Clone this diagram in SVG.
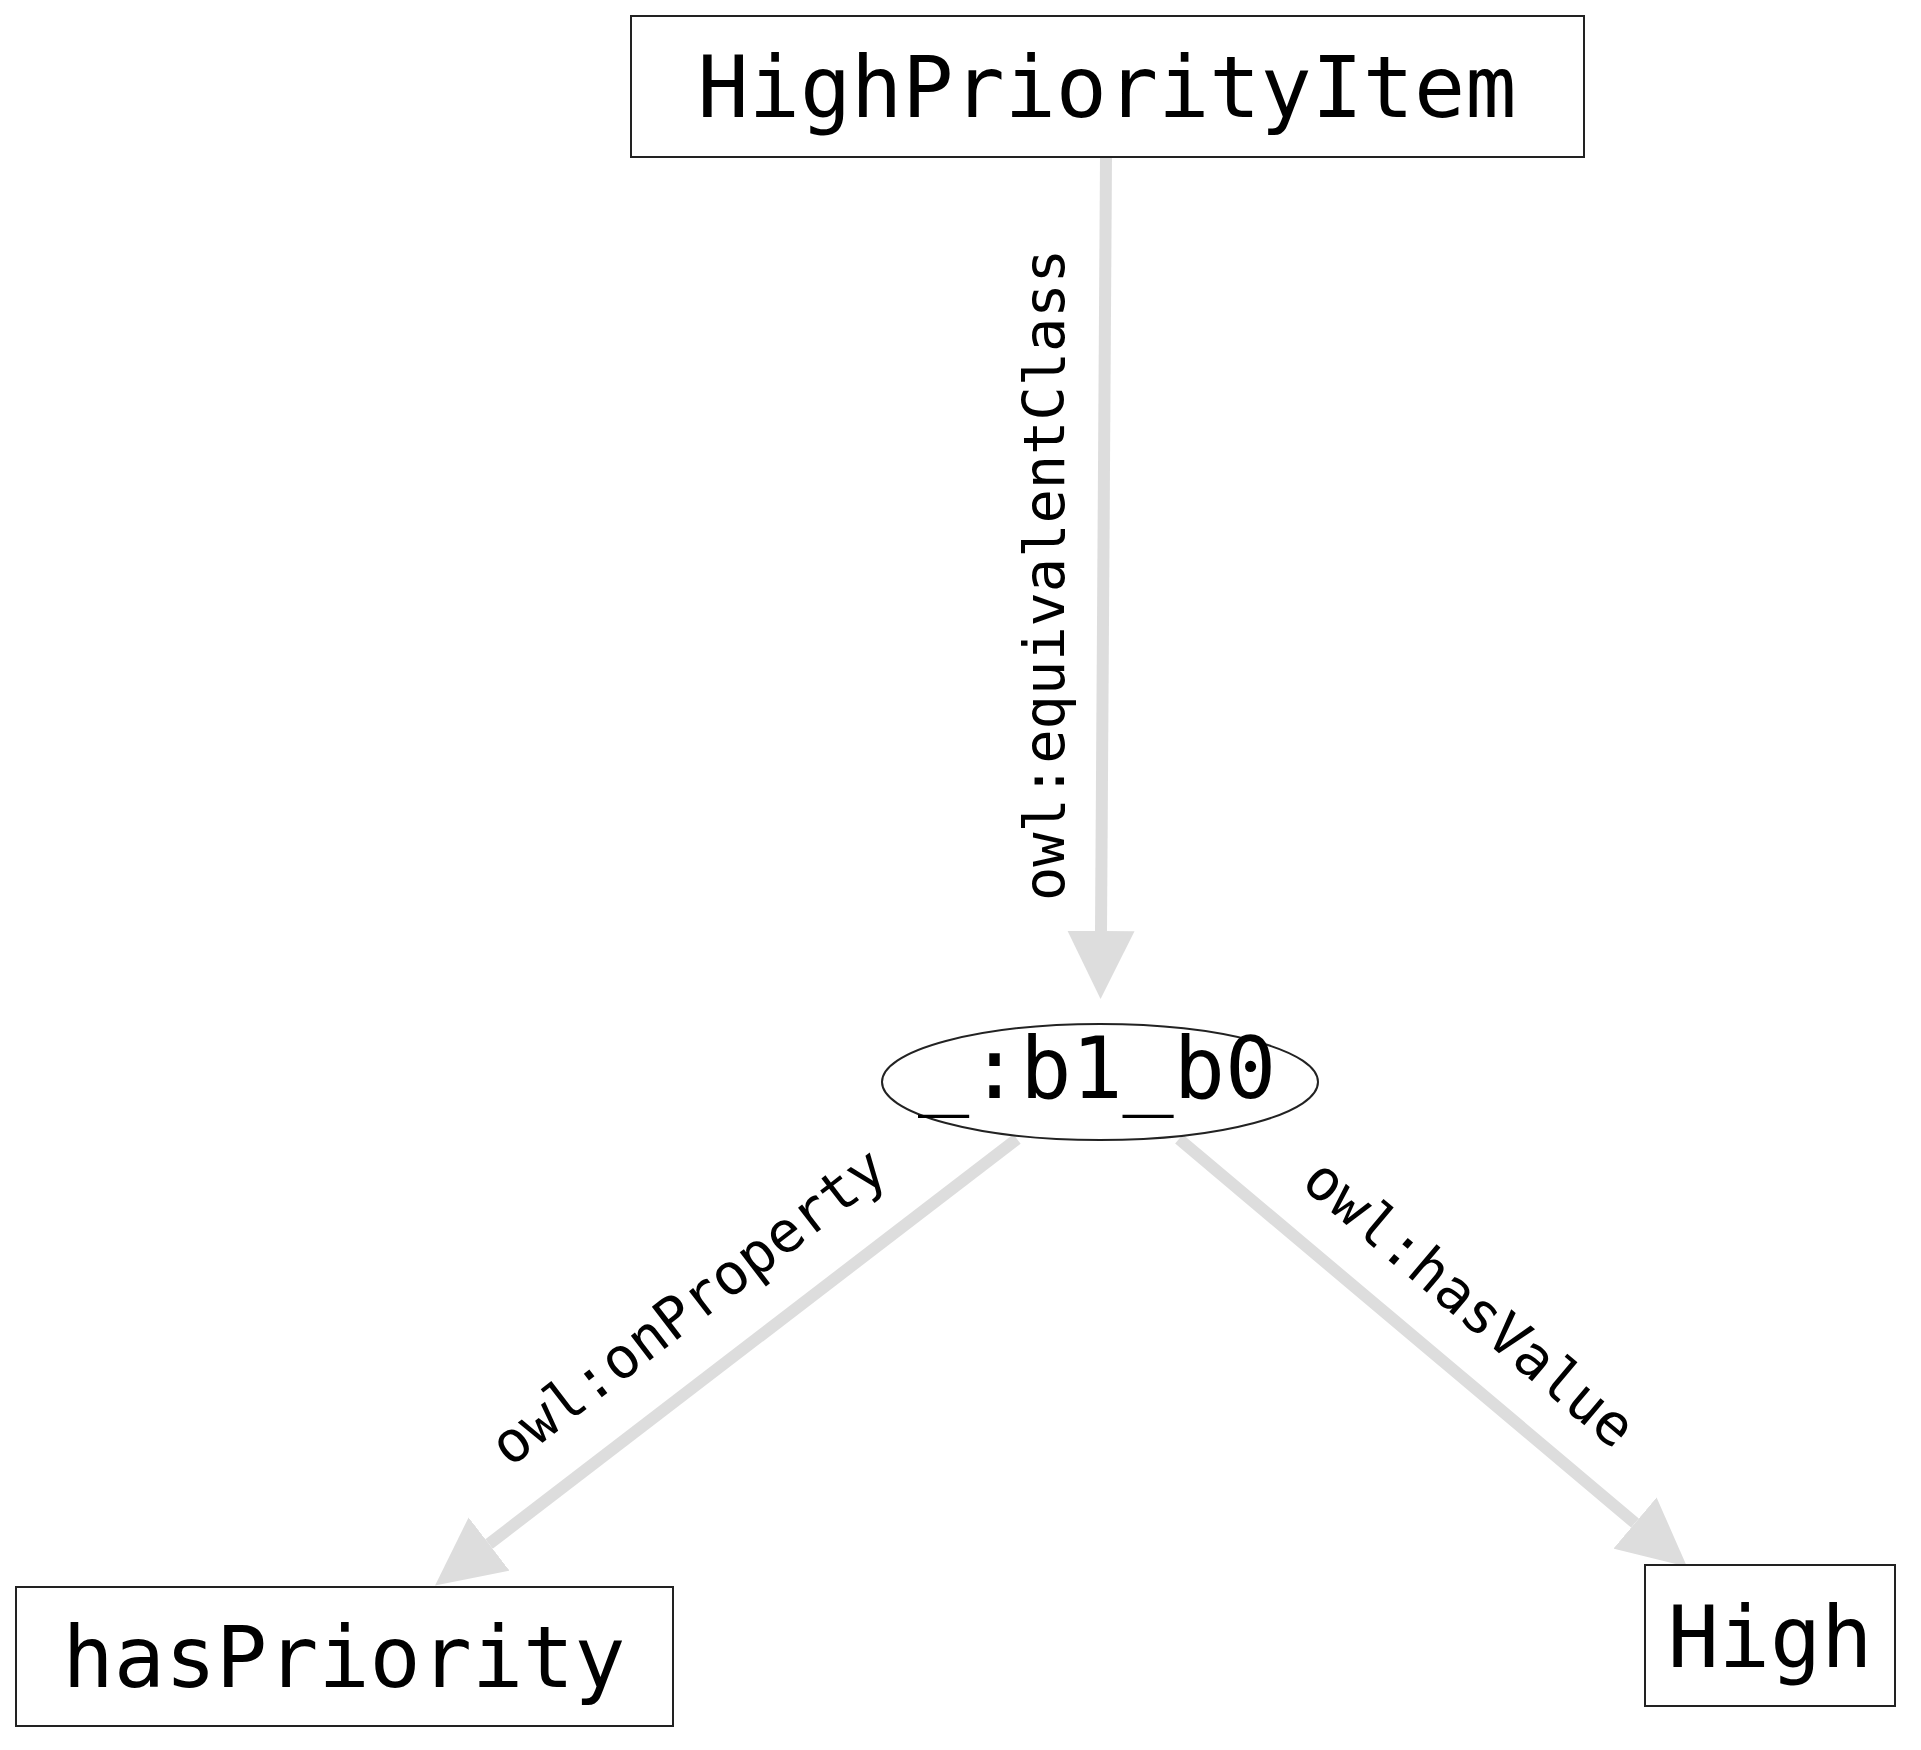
<svg xmlns="http://www.w3.org/2000/svg" width="1921" height="1750" viewBox="0 0 1921 1750">
<style>
.node rect, .node ellipse { fill: #ffffff; stroke: #222222; stroke-width: 2; }
.node text { font-family: "DejaVu Sans Mono", "Liberation Mono", monospace; font-size: 85px; fill: #000; text-anchor: middle; }
.edge line { stroke: #dddddd; stroke-width: 12; fill: none; }
.edge text { font-family: "DejaVu Sans Mono", "Liberation Mono", monospace; font-size: 57px; fill: #000; text-anchor: middle; }
</style>
<defs>
<marker id="arrow" markerUnits="userSpaceOnUse" markerWidth="68" markerHeight="68" viewBox="0 0 67 66" refX="0" refY="33" orient="auto">
<path d="M0,0 L67,33 L0,66 z" fill="#dddddd"/>
</marker>
</defs>
<rect width="1921" height="1750" fill="#ffffff"/>
<g id="connectors">
<g class="edge" id="e1">
<line x1="1106" y1="157" x2="1101" y2="931" marker-end="url(#arrow)"/>
<text x="1064" y="575" transform="rotate(-90 1064 575)">owl:equivalentClass</text>
</g>
<g class="edge" id="e2">
<line x1="1017" y1="1139" x2="489" y2="1544" marker-end="url(#arrow)"/>
<text x="700" y="1322" transform="rotate(-37.5 700 1322)">owl:onProperty</text>
</g>
<g class="edge" id="e3">
<line x1="1179" y1="1139" x2="1635" y2="1523" marker-end="url(#arrow)"/>
<text x="1457" y="1318" transform="rotate(40.1 1457 1318)">owl:hasValue</text>
</g>
</g>
<g class="node" id="n-HighPriorityItem">
<rect x="631" y="16" width="953" height="141"/>
<text x="1107" y="117">HighPriorityItem</text>
</g>
<g class="node" id="n-b1_b0">
<ellipse cx="1100" cy="1082" rx="218" ry="58"/>
<text x="1097" y="1098">_:b1_b0</text>
</g>
<g class="node" id="n-hasPriority">
<rect x="16" y="1587" width="657" height="139"/>
<text x="344" y="1687">hasPriority</text>
</g>
<g class="node" id="n-High">
<rect x="1645" y="1565" width="250" height="141"/>
<text x="1770" y="1667">High</text>
</g>
</svg>
